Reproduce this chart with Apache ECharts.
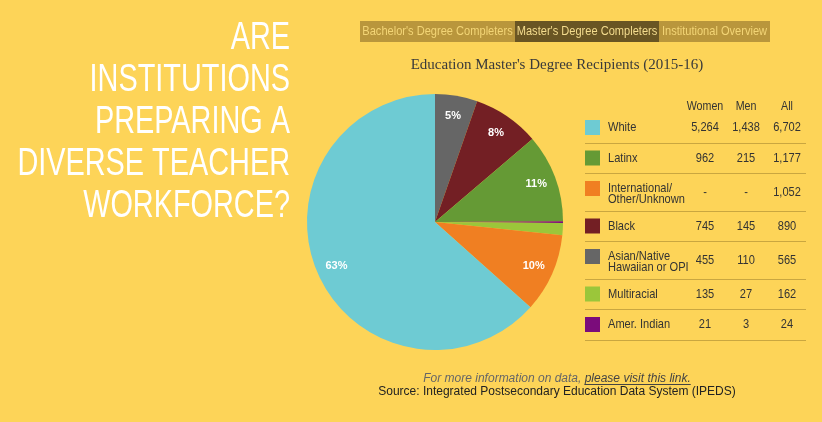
<!DOCTYPE html>
<html>
<head>
<meta charset="utf-8">
<script src="https://cdn.jsdelivr.net/npm/echarts@6/dist/echarts.min.js"></script>
<style>
  html, body { margin: 0; padding: 0; background: #fdd458; }
  #chart { width: 822px; height: 422px; }
</style>
</head>
<body>
<div id="chart"></div>
<script>
  // table rows (top to bottom)
  var groups = ['White', 'Latinx', 'International/\nOther/Unknown', 'Black', 'Asian/Native\nHawaiian or OPI', 'Multiracial', 'Amer. Indian']
  var women = [5264, 962, null, 745, 455, 135, 21]
  var men = [1438, 215, null, 145, 110, 27, 3]
  var all = [6702, 1177, 1052, 890, 565, 162, 24]
  var colors = ['#6ecbd3', '#659a35', '#f07f22', '#731f24', '#666666', '#9bc63a', '#7b0c7b']
  // slice order of the pie, clockwise from 12 o'clock (index into rows)
  var pieOrder = [4, 3, 1, 6, 5, 2, 0]
  var columns = ['Women', 'Men', 'All']
  var tabs = ["Bachelor's Degree Completers", "Master's Degree Completers", 'Institutional Overview']
  var headline = ['ARE', 'INSTITUTIONS', 'PREPARING A', 'DIVERSE TEACHER', 'WORKFORCE?']

  var sans = 'Liberation Sans'
  var squeeze = 0.82 // narrow look, text is drawn with Liberation Sans and squeezed
  var fmt = function (v) {
    return v == null ? '-' : v.toLocaleString('en-US')
  }

  var pieData = pieOrder.map(function (i) {
    return { name: groups[i].replace('\n', ' '), value: all[i], itemStyle: { color: colors[i] } }
  })

  var graphics = []
  var txt = function (x, y, text, size, fill, align, extra) {
    var el = {
      type: 'text', x: x, y: y, scaleX: squeeze,
      style: { text: text, fill: fill, fontFamily: sans, fontSize: size, align: align, verticalAlign: 'middle' }
    }
    Object.assign(el.style, extra || {})
    graphics.push(el)
  }

  // headline
  headline.forEach(function (line, i) {
    txt(290, 38 + i * 42, line, 39, '#ffffff', 'right', { lineHeight: 39 })
  })
  graphics.forEach(function (g) { g.scaleX = 0.74 })

  // tabs
  var tabX = [360, 515, 659, 770]
  tabs.forEach(function (t, i) {
    var active = i === 1
    graphics.push({
      type: 'rect', shape: { x: tabX[i], y: 21, width: tabX[i + 1] - tabX[i], height: 21 },
      style: { fill: active ? '#695523' : '#b9963c' }
    })
    txt((tabX[i] + tabX[i + 1]) / 2, 31.5, t, 13.5, active ? '#f4dc8e' : '#f3d576', 'center')
  })

  // chart title
  graphics.push({
    type: 'text', x: 557, y: 65,
    style: { text: "Education Master's Degree Recipients (2015-16)", fill: '#3a3a3a', fontFamily: 'Liberation Serif', fontSize: 15, align: 'center', verticalAlign: 'middle' }
  })

  // table header
  var colX = [705, 746, 787]
  columns.forEach(function (c, j) {
    txt(colX[j], 106, c, 13, '#333333', 'center')
  })

  // table rows
  var rowTop = 112
  groups.forEach(function (g, i) {
    var two = g.indexOf('\n') >= 0
    var h = two ? 37.5 : 30.5
    var mid = two ? rowTop + 21 : rowTop + 15.5
    var numY = two ? rowTop + 19 : rowTop + 15.5
    graphics.push({ type: 'rect', shape: { x: 585, y: rowTop + 8, width: 15, height: 15 }, style: { fill: colors[i] } })
    txt(608, mid, g, 13.5, '#333333', 'left', { lineHeight: 11 })
    ;[women[i], men[i], all[i]].forEach(function (v, j) {
      txt(colX[j], numY, fmt(v), 13.5, '#333333', 'center')
    })
    rowTop += h
    var ly = Math.round(rowTop) + 0.5
    graphics.push({
      type: 'line', shape: { x1: 585, y1: ly, x2: 806, y2: ly },
      style: { stroke: '#c9a640', lineWidth: 1 }
    })
  })

  // footer
  var ctx = document.createElement('canvas').getContext('2d')
  ctx.font = 'italic 12px "Liberation Sans"'
  var note1 = 'For more information on data, '
  var note2 = 'please visit this link.'
  var w1 = ctx.measureText(note1).width
  var w2 = ctx.measureText(note2).width
  var nx = 557 - (w1 + w2) / 2
  var note = { fontFamily: sans, fontSize: 12, fontStyle: 'italic', align: 'left', verticalAlign: 'middle' }
  graphics.push({ type: 'text', x: nx, y: 379, style: Object.assign({ text: note1, fill: '#666666' }, note) })
  graphics.push({ type: 'text', x: nx + w1, y: 379, style: Object.assign({ text: note2, fill: '#444444' }, note) })
  graphics.push({ type: 'line', shape: { x1: nx + w1, y1: 384.5, x2: nx + w1 + w2, y2: 384.5 }, style: { stroke: '#444444', lineWidth: 1 } })
  graphics.push({
    type: 'text', x: 557, y: 392,
    style: { text: 'Source: Integrated Postsecondary Education Data System (IPEDS)', fill: '#222222', fontFamily: sans, fontSize: 12, align: 'center', verticalAlign: 'middle' }
  })

  var chart = echarts.init(document.getElementById('chart'))
  var option = {
    backgroundColor: '#fdd458',
    animation: false,
    graphic: graphics,
    series: [{
      type: 'pie',
      center: [435, 222],
      radius: [0, 128],
      startAngle: 90,
      clockwise: true,
      silent: true,
      label: { show: false },
      labelLine: { show: false },
      data: pieData
    }, {
      // transparent copy only to put the percent labels at ~105px from centre
      type: 'pie',
      center: [435, 222],
      radius: [0, 210],
      startAngle: 90,
      clockwise: true,
      silent: true,
      itemStyle: { color: 'rgba(0,0,0,0)' },
      label: {
        show: true,
        position: 'inside',
        color: '#ffffff',
        fontFamily: sans,
        fontWeight: 'bold',
        fontSize: 11,
        formatter: function (p) {
          return p.percent >= 3 ? Math.round(p.percent) + '%' : ''
        }
      },
      labelLine: { show: false },
      data: pieData.map(function (d) { return { name: d.name, value: d.value } })
    }]
  }
  chart.setOption(option)
</script>
</body>
</html>
